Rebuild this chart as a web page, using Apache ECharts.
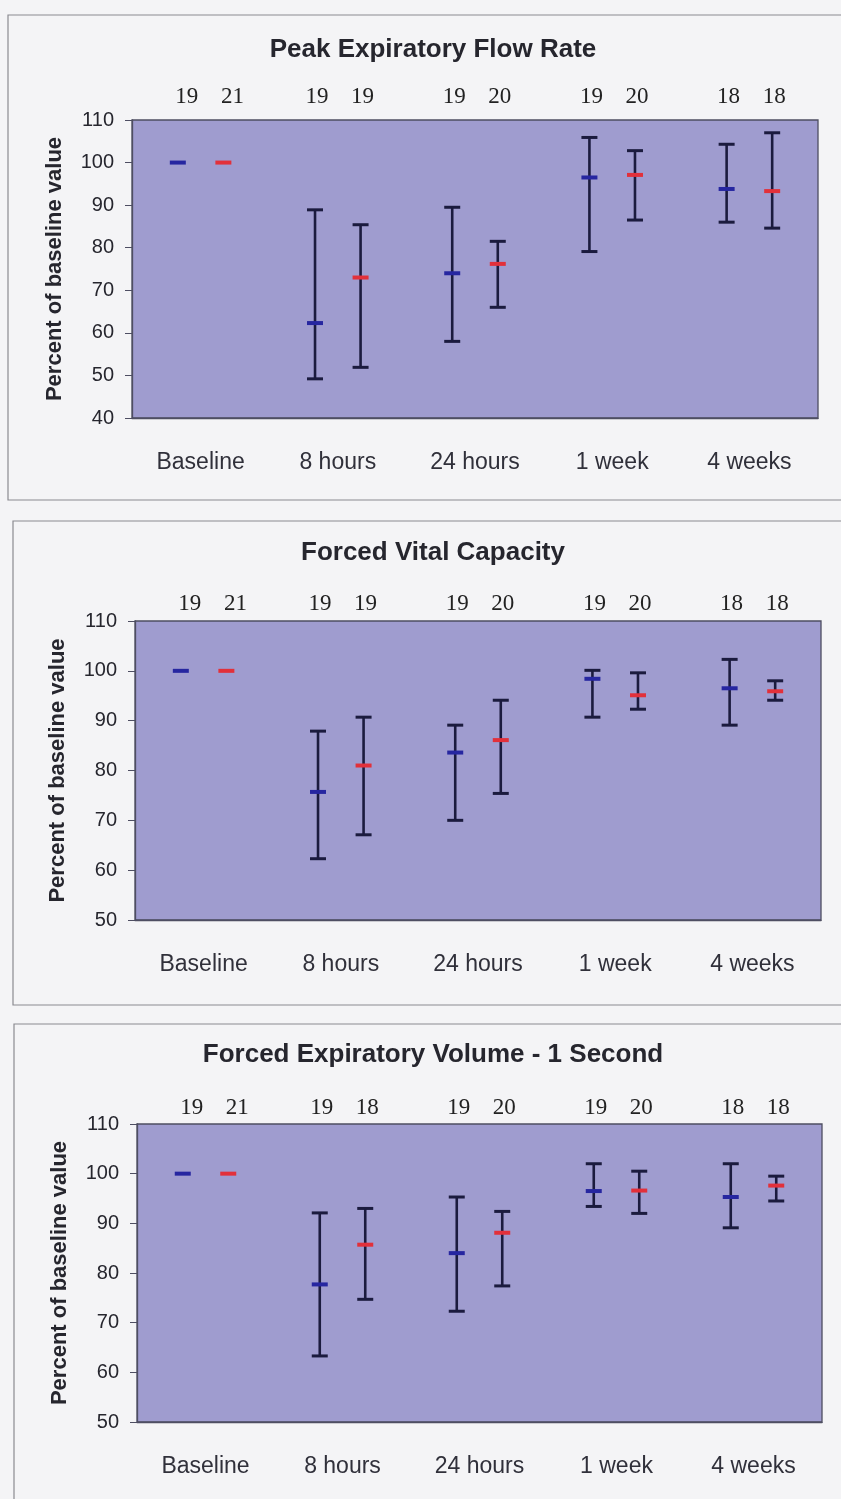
<!DOCTYPE html>
<html>
<head>
<meta charset="utf-8">
<script src="https://cdn.jsdelivr.net/npm/echarts@6/dist/echarts.min.js"></script>
<style>
  html, body { margin: 0; padding: 0; background: #f4f4f6; }
  #main { width: 841px; height: 1499px; }
</style>
</head>
<body>
<div id="main"></div>
<script>
// ---------- DATA ----------
const categories = ['Baseline', '8 hours', '24 hours', '1 week', '4 weeks'];

const titles = ['Peak Expiratory Flow Rate', 'Forced Vital Capacity', 'Forced Expiratory Volume - 1 Second'];
const yAxisName = 'Percent of baseline value';

// Peak Expiratory Flow Rate
const pefrBlueMean = [100, 62.3, 74.0, 96.5, 93.8];
const pefrBlueLow  = [null, 49.2, 58.0, 79.1, 86.0];
const pefrBlueHigh = [null, 88.9, 89.5, 105.9, 104.3];
const pefrRedMean  = [100, 73.0, 76.2, 97.1, 93.3];
const pefrRedLow   = [null, 51.9, 66.0, 86.5, 84.6];
const pefrRedHigh  = [null, 85.4, 81.5, 102.8, 107.0];
const pefrNBlue = [19, 19, 19, 19, 18];
const pefrNRed  = [21, 19, 20, 20, 18];

// Forced Vital Capacity
const fvcBlueMean = [100, 75.7, 83.6, 98.4, 96.5];
const fvcBlueLow  = [null, 62.3, 70.0, 90.7, 89.1];
const fvcBlueHigh = [null, 87.9, 89.1, 100.1, 102.3];
const fvcRedMean  = [100, 81.0, 86.1, 95.1, 95.9];
const fvcRedLow   = [null, 67.1, 75.4, 92.3, 94.1];
const fvcRedHigh  = [null, 90.7, 94.1, 99.6, 98.0];
const fvcNBlue = [19, 19, 19, 19, 18];
const fvcNRed  = [21, 19, 20, 20, 18];

// Forced Expiratory Volume - 1 Second
const fevBlueMean = [100, 77.7, 84.0, 96.5, 95.3];
const fevBlueLow  = [null, 63.3, 72.3, 93.4, 89.1];
const fevBlueHigh = [null, 92.1, 95.3, 102.0, 102.0];
const fevRedMean  = [100, 85.7, 88.1, 96.6, 97.6];
const fevRedLow   = [null, 74.7, 77.4, 92.0, 94.5];
const fevRedHigh  = [null, 93.0, 92.4, 100.5, 99.5];
const fevNBlue = [19, 19, 19, 19, 18];
const fevNRed  = [21, 18, 20, 20, 18];

// y-axis ticks
const yTicks1 = [40, 50, 60, 70, 80, 90, 100, 110];
const yTicks23 = [50, 60, 70, 80, 90, 100, 110];

// ---------- STYLE ----------
const PLOT_BG = '#9f9ccf';
const BLUE = '#2626a0';
const RED = '#e2303a';
const BAR = '#1b1b3e';
const SANS = 'Liberation Sans, Arial, sans-serif';
const SERIF = 'Liberation Serif, Times New Roman, serif';
const OFFSET = 0.166;

const panels = [
  { title: titles[0], ticks: yTicks1, grid: { left: 132, top: 120, width: 686, height: 298 }, titleTop: 37, countGap: 23,
    blue: [pefrBlueMean, pefrBlueLow, pefrBlueHigh], red: [pefrRedMean, pefrRedLow, pefrRedHigh], nB: pefrNBlue, nR: pefrNRed,
    box: [8, 15, 900, 485] },
  { title: titles[1], ticks: yTicks23, grid: { left: 135, top: 621, width: 686, height: 299 }, titleTop: 540, countGap: 17,
    blue: [fvcBlueMean, fvcBlueLow, fvcBlueHigh], red: [fvcRedMean, fvcRedLow, fvcRedHigh], nB: fvcNBlue, nR: fvcNRed,
    box: [13, 521, 900, 484] },
  { title: titles[2], ticks: yTicks23, grid: { left: 137, top: 1124, width: 685, height: 298 }, titleTop: 1042, countGap: 16,
    blue: [fevBlueMean, fevBlueLow, fevBlueHigh], red: [fevRedMean, fevRedLow, fevRedHigh], nB: fevNBlue, nR: fevNRed,
    box: [14, 1024, 900, 500] }
];

function num(v) { return (v === null || v === undefined || isNaN(v)) ? null : v; }

function errorSeries(idx, arrs, side, color) {
  const data = categories.map((c, i) => [i, arrs[0][i], arrs[1][i] === null ? '-' : arrs[1][i], arrs[2][i] === null ? '-' : arrs[2][i]]);
  return {
    type: 'custom', xAxisIndex: idx, yAxisIndex: idx, clip: false, silent: true,
    data: data,
    renderItem: function (params, api) {
      const cat = api.value(0);
      const mean = api.value(1);
      const low = api.value(2);
      const high = api.value(3);
      const bw = api.size([1, 0])[0];
      const pm = api.coord([cat, mean]);
      const x = pm[0] + side * bw * OFFSET;
      const children = [];
      if (num(low) !== null && num(high) !== null) {
        const yl = api.coord([cat, low])[1];
        const yh = api.coord([cat, high])[1];
        children.push({ type: 'line', shape: { x1: x, y1: yl, x2: x, y2: yh }, style: { stroke: BAR, lineWidth: 2.6 } });
        children.push({ type: 'line', shape: { x1: x - 8, y1: yl, x2: x + 8, y2: yl }, style: { stroke: BAR, lineWidth: 3 } });
        children.push({ type: 'line', shape: { x1: x - 8, y1: yh, x2: x + 8, y2: yh }, style: { stroke: BAR, lineWidth: 3 } });
      }
      children.push({ type: 'line', shape: { x1: x - 8, y1: pm[1], x2: x + 8, y2: pm[1] }, style: { stroke: color, lineWidth: 4 } });
      return { type: 'group', children: children };
    }
  };
}

function countSeries(idx, counts, side, yMax, gap) {
  return {
    type: 'custom', xAxisIndex: idx, yAxisIndex: idx, clip: false, silent: true,
    data: counts.map((n, i) => [i, n]),
    renderItem: function (params, api) {
      const cat = api.value(0);
      const bw = api.size([1, 0])[0];
      const p = api.coord([cat, yMax]);
      const shift = cat === 0 ? 9 : 2;
      return {
        type: 'text',
        style: {
          text: String(api.value(1)),
          x: p[0] + side * bw * OFFSET + shift,
          y: p[1] - gap,
          align: 'center', verticalAlign: 'middle',
          font: '23px ' + SERIF,
          fill: '#222'
        }
      };
    }
  };
}

const option = {
  backgroundColor: '#f4f4f6',
  animation: false,
  title: [], grid: [], xAxis: [], yAxis: [], series: [],
  graphic: []
};

panels.forEach((p, idx) => {
  const yMin = p.ticks[0], yMax = p.ticks[p.ticks.length - 1];
  option.graphic.push({
    type: 'rect', z: -10, silent: true,
    shape: { x: p.box[0], y: p.box[1], width: p.box[2], height: p.box[3] },
    style: { fill: 'none', stroke: '#8a8a90', lineWidth: 1.2 }
  });
  option.title.push({
    text: p.title, left: 433, top: p.titleTop, textAlign: 'center', padding: 0,
    textStyle: { fontFamily: SANS, fontSize: 26, fontWeight: 'bold', color: '#26262e' }
  });
  option.grid.push(Object.assign({ show: true, backgroundColor: PLOT_BG, borderColor: '#4e4e62', borderWidth: 1.3 }, p.grid));
  option.xAxis.push({
    type: 'category', gridIndex: idx, data: categories, boundaryGap: true,
    axisTick: { show: false },
    axisLine: { show: true, lineStyle: { color: '#4e4e62', width: 1.3 } },
    axisLabel: { fontFamily: SANS, fontSize: 23, color: '#30303a', margin: 33 },
    splitLine: { show: false }
  });
  option.yAxis.push({
    type: 'value', gridIndex: idx, min: yMin, max: yMax, interval: 10,
    name: yAxisName, nameLocation: 'middle', nameRotate: 90, nameGap: 66,
    nameTextStyle: { fontFamily: SANS, fontSize: 22, fontWeight: 'bold', color: '#26262e' },
    axisLine: { show: true, lineStyle: { color: '#4e4e62', width: 1.3 } },
    axisTick: { show: true, length: 7, lineStyle: { color: '#4e4e62' } },
    axisLabel: { fontFamily: SANS, fontSize: 20, color: '#26262e', margin: 18 },
    splitLine: { show: false }
  });
  option.series.push(errorSeries(idx, p.blue, -1, BLUE));
  option.series.push(errorSeries(idx, p.red, 1, RED));
  option.series.push(countSeries(idx, p.nB, -1, yMax, p.countGap));
  option.series.push(countSeries(idx, p.nR, 1, yMax, p.countGap));
});

const chart = echarts.init(document.getElementById('main'), null, { renderer: 'canvas' });
chart.setOption(option);
</script>
</body>
</html>
